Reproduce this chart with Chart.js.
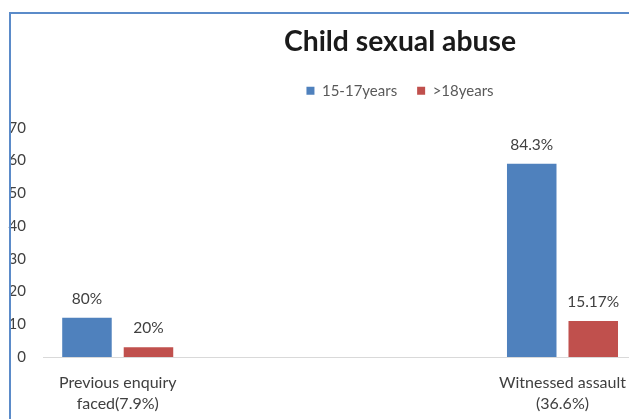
<!DOCTYPE html>
<html><head><meta charset="utf-8">
<script src="https://cdn.jsdelivr.net/npm/chart.js@4.4.1/dist/chart.umd.min.js"></script>
<style>
html,body{margin:0;padding:0;background:#fff;overflow:hidden;width:629px;height:419px;}
#wrap{position:absolute;left:0;top:0;width:802px;height:419px;}
#frame{position:absolute;left:9px;top:12px;width:800px;height:600px;border-left:2px solid #5b8bc9;border-top:2px solid #5b8bc9;pointer-events:none;}
</style></head><body>
<div id="wrap"><canvas id="c" width="802" height="419"></canvas></div>
<div id="frame"></div>
<script>
const categories = [["Previous enquiry", "faced(7.9%)"], ["Witnessed assault", "(36.6%)"]];
const seriesNames = ["15-17years", ">18years"];
const youngerValues = [12, 59];
const olderValues = [3, 11];
const youngerLabels = ["80%", "84.3%"];
const olderLabels = ["20%", "15.17%"];
const yMin = 0, yMax = 70, yStep = 10;

const FONT = 'Lato';

const valueLabelPlugin = {
  id: 'valueLabels',
  afterDatasetsDraw(chart) {
    const ctx = chart.ctx;
    ctx.save();
    ctx.font = '15.5px ' + FONT;
    ctx.fillStyle = '#404040';
    ctx.textAlign = 'center';
    ctx.textBaseline = 'middle';
    chart.data.datasets.forEach((ds, di) => {
      const meta = chart.getDatasetMeta(di);
      meta.data.forEach((bar, i) => {
        ctx.fillText(ds.valueLabels[i], bar.x, bar.y - 19);
      });
    });
    ctx.restore();
  }
};

const legendGapPlugin = {
  id: 'legendGap',
  afterInit(chart) {
    const lg = chart.legend;
    if (!lg) return;
    const fit = lg.fit;
    lg.fit = function () { fit.apply(this, arguments); this.height += 19.7; };
  }
};

new Chart(document.getElementById('c'), {
  type: 'bar',
  data: {
    datasets: [
      {
        label: seriesNames[0],
        data: categories.map((c, i) => ({ x: i, y: youngerValues[i] })),
        valueLabels: youngerLabels,
        backgroundColor: '#4f81bd'
      },
      {
        label: seriesNames[1],
        data: categories.map((c, i) => ({ x: i, y: olderValues[i] })),
        valueLabels: olderLabels,
        backgroundColor: '#c0504d'
      }
    ]
  },
  options: {
    responsive: false,
    animation: false,
    categoryPercentage: 0.2766,
    barPercentage: 0.805,
    layout: { padding: { left: 0, right: 2, top: 0, bottom: 0 } },
    plugins: {
      title: {
        display: true,
        text: 'Child sexual abuse',
        color: '#1a1a1a',
        font: { family: FONT, size: 28.3, weight: 'bold' },
        padding: { top: 25, bottom: 4.2 }
      },
      legend: {
        display: true,
        position: 'top',
        labels: {
          boxWidth: 8, boxHeight: 8, padding: 20,
          color: '#595959',
          font: { family: FONT, size: 15 }
        }
      },
      tooltip: { enabled: false }
    },
    scales: {
      x: {
        type: 'linear',
        offset: false,
        min: -0.168,
        max: 1.534,
        grid: { display: false, drawTicks: false, offset: false },
        border: { display: true, color: '#d9d9d9', width: 1 },
        afterBuildTicks: (s) => { s.ticks = categories.map((c, i) => ({ value: i })); },
        afterFit: (s) => { s.height = 62; },
        ticks: {
          autoSkip: false, maxRotation: 0, minRotation: 0, padding: 15.5,
          color: '#404040',
          font: { family: FONT, size: 16, lineHeight: 1.3 },
          callback: (v) => categories[v]
        }
      },
      y: {
        min: yMin, max: yMax,
        grid: { display: false, drawTicks: false },
        border: { display: false },
        afterFit: (s) => { s.width = 43; },
        ticks: {
          stepSize: yStep, padding: 17,
          color: '#404040',
          font: { family: FONT, size: 15 }
        }
      }
    }
  },
  plugins: [valueLabelPlugin, legendGapPlugin]
});
</script>
</body></html>
